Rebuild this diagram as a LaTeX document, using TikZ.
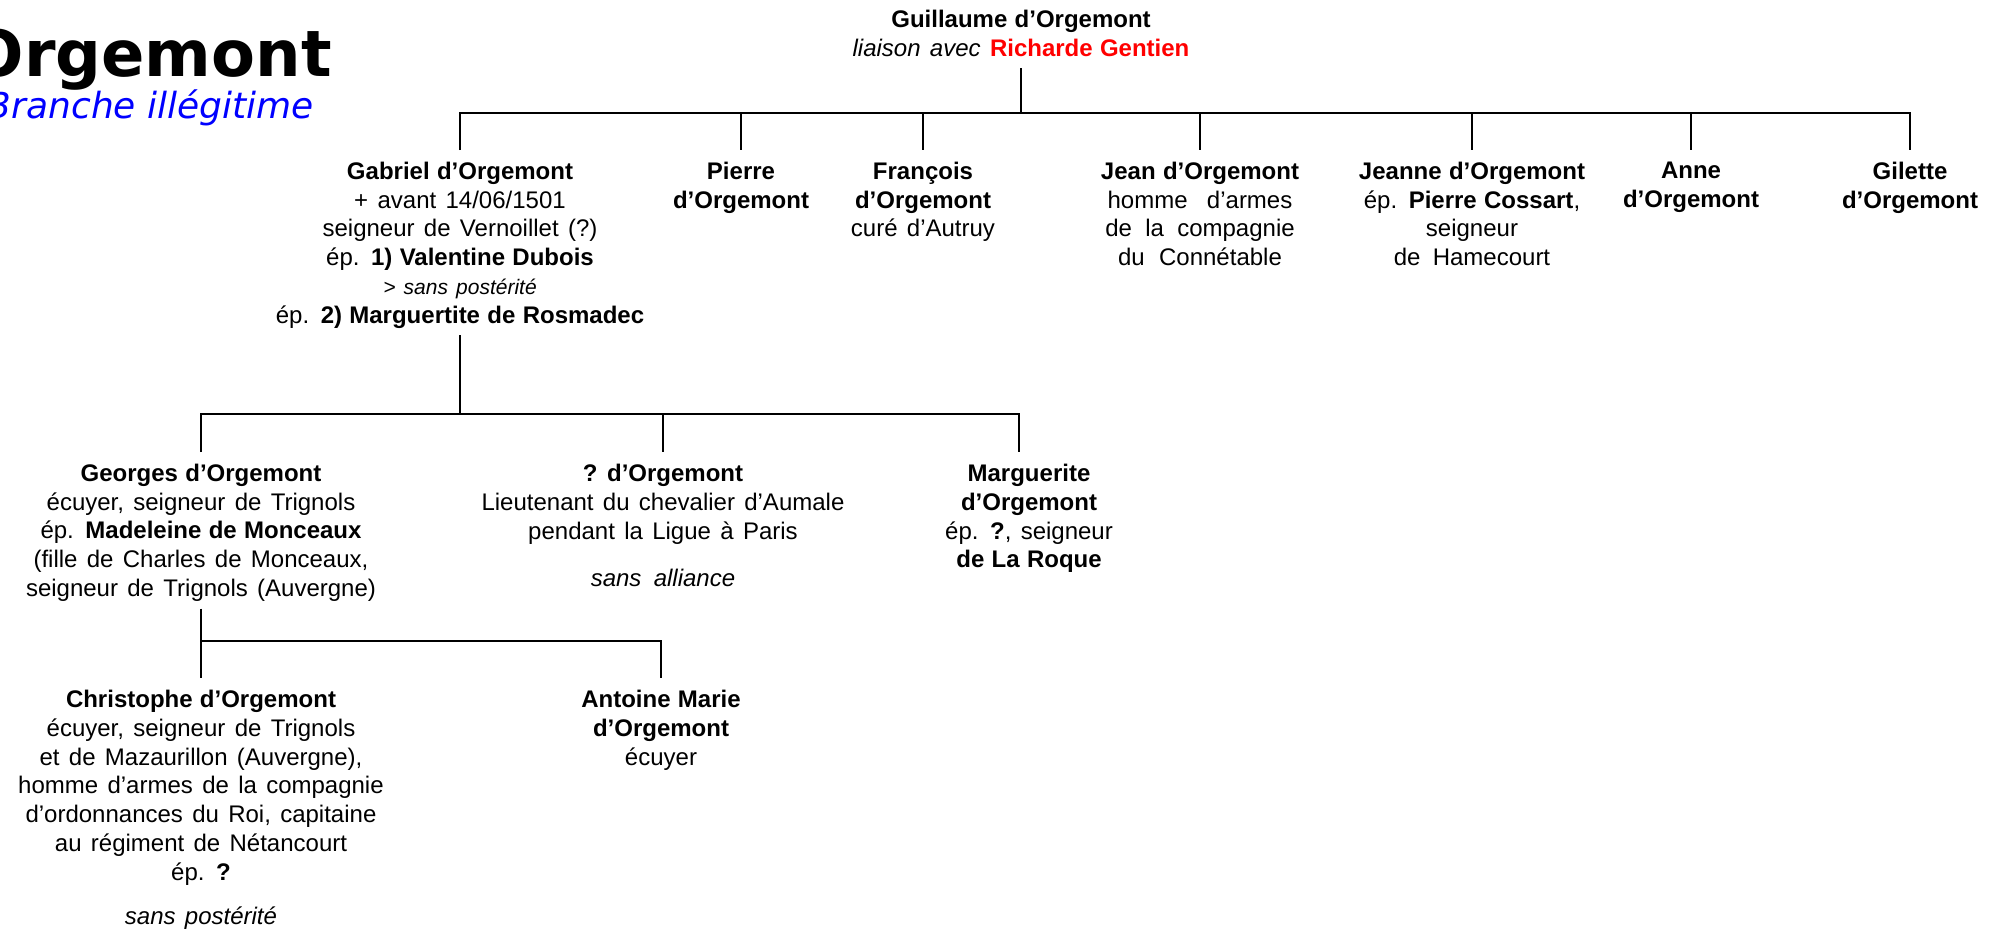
\documentclass[tikz,border=0pt]{standalone}
\usepackage{fontspec}
\setmainfont[WordSpace=1.4, BoldFeatures={WordSpace=1.1}]{Liberation Sans}
\newfontfamily\titlefont{DejaVu Sans}
\definecolor{rouge}{RGB}{255,0,0}
\definecolor{bleu}{RGB}{0,0,255}

\begin{document}
\begin{tikzpicture}[x=1pt, y=-1pt,
    pers/.style={anchor=north, align=center, inner sep=0pt, outer ysep=12pt, font=\fontsize{24}{28.8}\selectfont},
    titre/.style={anchor=base east, inner sep=0pt},
    ln/.style={line width=2.8pt}]
    \useasboundingbox (0,0) rectangle (1998,935);
    \clip (0,0) rectangle (1998,935);
    \node [titre, font=\titlefont\bfseries\fontsize{64}{64}\selectfont] (nom) at (332,76) {Orgemont};
    \node [titre, text=bleu, font=\titlefont\itshape\fontsize{36}{36}\selectfont] (branche) at (314,118) {Branche illégitime};

    \node [pers] (guil) at (1021,-2) {\textbf{Guillaume d’Orgemont}\\ \textit{liaison avec} \textcolor{rouge}{\textbf{Richarde Gentien}}};

    \node [pers] (gab) at (460,150) {\textbf{Gabriel d’Orgemont}\\ + avant 14/06/1501\\ seigneur de Vernoillet (?)\\ ép. \textbf{1) Valentine Dubois}\\ {\fontsize{21}{24}\selectfont\itshape > sans postérité}\\ ép. \textbf{2) Marguertite de Rosmadec}};
    \node [pers] (pier) at (741,150) {\textbf{Pierre}\\ \textbf{d’Orgemont}};
    \node [pers] (fran) at (923,150) {\textbf{François}\\ \textbf{d’Orgemont}\\ curé d’Autruy};
    \node [pers] (jean) at (1200,150) {\textbf{Jean d’Orgemont}\\ homme\hspace{10pt} d’armes\\ de\hspace{4pt} la\hspace{4pt} compagnie\\ du\hspace{5pt} Connétable};
    \node [pers] (jeann) at (1472,150) {\textbf{Jeanne d’Orgemont}\\ ép. \textbf{Pierre Cossart},\\ seigneur\\ de\hspace{3pt} Hamecourt};
    \node [pers] (anne) at (1691,150) {\textbf{Anne}\\ \textbf{d’Orgemont}};
    \node [pers] (gil) at (1910,150) {\textbf{Gilette}\\ \textbf{d’Orgemont}};

    \node [pers] (geo) at (201,452) {\textbf{Georges d’Orgemont}\\ écuyer, seigneur de Trignols\\ ép. \textbf{Madeleine de Monceaux}\\ (fille de Charles de Monceaux,\\ seigneur de Trignols (Auvergne)};
    \node [pers] (inco) at (663,452) {\textbf{? d’Orgemont}\\ Lieutenant du chevalier d’Aumale\\ pendant la Ligue à Paris\\[19pt] \textit{sans\hspace{3pt} alliance}};
    \node [pers] (marg) at (1029,452) {\textbf{Marguerite}\\ \textbf{d’Orgemont}\\ ép. \textbf{?}, seigneur\\ \textbf{de La Roque}};

    \node [pers] (chr) at (201,678) {\textbf{Christophe d’Orgemont}\\ écuyer, seigneur de Trignols\\ et de Mazaurillon (Auvergne),\\ homme d’armes de la compagnie\\ d’ordonnances du Roi, capitaine\\ au régiment de Nétancourt\\ ép. \textbf{?}\\[15pt] \textit{sans postérité}};
    \node [pers] (ant) at (661,678) {\textbf{Antoine Marie}\\ \textbf{d’Orgemont}\\ écuyer};

    \coordinate (bus0) at (0,113);
    \coordinate (bus1) at (0,414);
    \coordinate (bus2) at (0,641);

    \draw [ln] (guil.south) -- (guil |- bus0);
    \draw [ln] (gab.north) |- (gil |- bus0) -- (gil.north);
    \foreach \n in {pier,fran,jean,jeann,anne}
        \draw [ln] (\n |- bus0) -- (\n.north);

    \draw [ln] ([yshift=5pt]gab.south) -- (gab |- bus1);
    \draw [ln] (geo.north) |- ([xshift=-10pt]marg.north |- bus1) -- ([xshift=-10pt]marg.north);
    \draw [ln] (inco |- bus1) -- (inco.north);

    \draw [ln] ([yshift=5pt]geo.south) -- (chr.north);
    \draw [ln] (chr |- bus2) -| (ant.north);
\end{tikzpicture}
\end{document}
